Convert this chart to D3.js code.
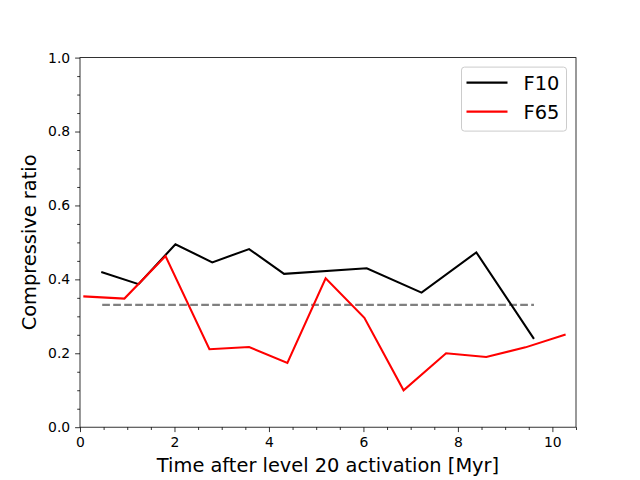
<!DOCTYPE html>
<html>
<head>
<meta charset="utf-8">
<script src="https://cdn.jsdelivr.net/npm/d3@7"></script>
<style>
  body { margin: 0; background: #fff; }
  text { font-family: "DejaVu Sans", sans-serif; }
</style>
</head>
<body>
<div id="chart"></div>
<script>
// Data
const timeF10 = [0.45, 1.24, 2.02, 2.80, 3.58, 4.32, 6.07, 7.23, 8.39, 9.61];
const ratioF10 = [0.420, 0.387, 0.495, 0.446, 0.482, 0.415, 0.430, 0.364, 0.473, 0.239];
const timeF65 = [0.07, 0.94, 1.81, 2.74, 3.58, 4.39, 5.20, 6.02, 6.85, 7.75, 8.60, 9.43, 10.28];
const ratioF65 = [0.354, 0.348, 0.463, 0.211, 0.217, 0.174, 0.403, 0.296, 0.100, 0.200, 0.190, 0.216, 0.251];
const refLevel = 0.331;
const refSpan = [0.47, 9.61];
const xTicks = [0, 2, 4, 6, 8, 10];
const yTicks = [0.0, 0.2, 0.4, 0.6, 0.8, 1.0];
const seriesNames = ["F10", "F65"];
const seriesColors = ["#000000", "#ff0000"];

function drawChart() {
    const W = 640, H = 480;
    const margin = { top: 57.6, right: 64, bottom: 52.8, left: 80 };
    const width = W - margin.left - margin.right;
    const height = H - margin.top - margin.bottom;

    const svg = d3.select("#chart")
        .append("svg")
        .attr("width", W)
        .attr("height", H);

    const g = svg.append("g")
        .attr("transform", `translate(${margin.left},${margin.top})`);

    const xScale = d3.scaleLinear().domain([0, 10.5]).range([0, width]);
    const yScale = d3.scaleLinear().domain([0, 1]).range([height, 0]);

    // minor ticks
    const xMinor = d3.range(0, 10.51, 0.5).filter(v => !xTicks.includes(v));
    const yMinor = d3.range(0, 1.001, 0.05).map(v => +v.toFixed(2))
        .filter(v => !yTicks.some(t => Math.abs(t - v) < 1e-6));

    g.append("g")
        .attr("transform", `translate(0,${height})`)
        .call(d3.axisBottom(xScale).tickValues(xMinor).tickSize(2.8).tickFormat(""))
        .call(a => a.select(".domain").remove());
    g.append("g")
        .call(d3.axisLeft(yScale).tickValues(yMinor).tickSize(2.8).tickFormat(""))
        .call(a => a.select(".domain").remove());

    // major axes
    const xAxis = g.append("g")
        .attr("transform", `translate(0,${height})`)
        .call(d3.axisBottom(xScale).tickValues(xTicks).tickSize(4.9).tickPadding(4.9).tickFormat(d3.format("d")));
    const yAxis = g.append("g")
        .call(d3.axisLeft(yScale).tickValues(yTicks).tickSize(4.9).tickPadding(4.9).tickFormat(d3.format(".1f")));

    [xAxis, yAxis].forEach(a => {
        a.selectAll("text").style("font-size", "13.9px").attr("fill", "#000");
        a.select(".domain").remove();
    });
    g.selectAll(".tick line").attr("stroke", "#000").attr("stroke-width", 0.8);

    // frame
    g.append("rect")
        .attr("width", width)
        .attr("height", height)
        .attr("fill", "none")
        .attr("stroke", "#000")
        .attr("stroke-width", 0.8);

    const clip = svg.append("clipPath").attr("id", "clip")
        .append("rect").attr("width", width).attr("height", height);

    const plot = g.append("g").attr("clip-path", "url(#clip)");

    const line = d3.line()
        .x(d => xScale(d[0]))
        .y(d => yScale(d[1]));

    // dashed reference level
    plot.append("path")
        .datum(refSpan.map(t => [t, refLevel]))
        .attr("d", line)
        .attr("fill", "none")
        .attr("stroke", "#808080")
        .attr("stroke-width", 2.08)
        .attr("stroke-dasharray", "7.7,3.3");

    const series = [
        timeF10.map((t, i) => [t, ratioF10[i]]),
        timeF65.map((t, i) => [t, ratioF65[i]])
    ];

    series.forEach((pts, i) => {
        plot.append("path")
            .datum(pts)
            .attr("d", line)
            .attr("fill", "none")
            .attr("stroke", seriesColors[i])
            .attr("stroke-width", 2.08)
            .attr("stroke-linejoin", "miter");
    });

    // legend
    const legend = g.append("g")
        .attr("transform", `translate(${width - 114.5},${9.5})`);
    legend.append("rect")
        .attr("width", 105)
        .attr("height", 64)
        .attr("rx", 3)
        .attr("fill", "#fff")
        .attr("fill-opacity", 0.8)
        .attr("stroke", "#cccccc")
        .attr("stroke-width", 1);
    seriesNames.forEach((name, i) => {
        const yy = 15.5 + i * 29;
        legend.append("line")
            .attr("x1", 5).attr("x2", 46)
            .attr("y1", yy).attr("y2", yy)
            .attr("stroke", seriesColors[i])
            .attr("stroke-width", 2.08);
        legend.append("text")
            .attr("x", 62)
            .attr("y", yy)
            .attr("dy", "0.36em")
            .style("font-size", "19.4px")
            .text(name);
    });

    // axis labels
    svg.append("text")
        .attr("x", margin.left + width / 2)
        .attr("y", H - 8)
        .attr("text-anchor", "middle")
        .style("font-size", "19.4px")
        .text("Time after level 20 activation [Myr]");

    svg.append("text")
        .attr("transform", `translate(36,${margin.top + height / 2}) rotate(-90)`)
        .attr("text-anchor", "middle")
        .style("font-size", "19.4px")
        .text("Compressive ratio");
}

drawChart();
</script>
</body>
</html>
